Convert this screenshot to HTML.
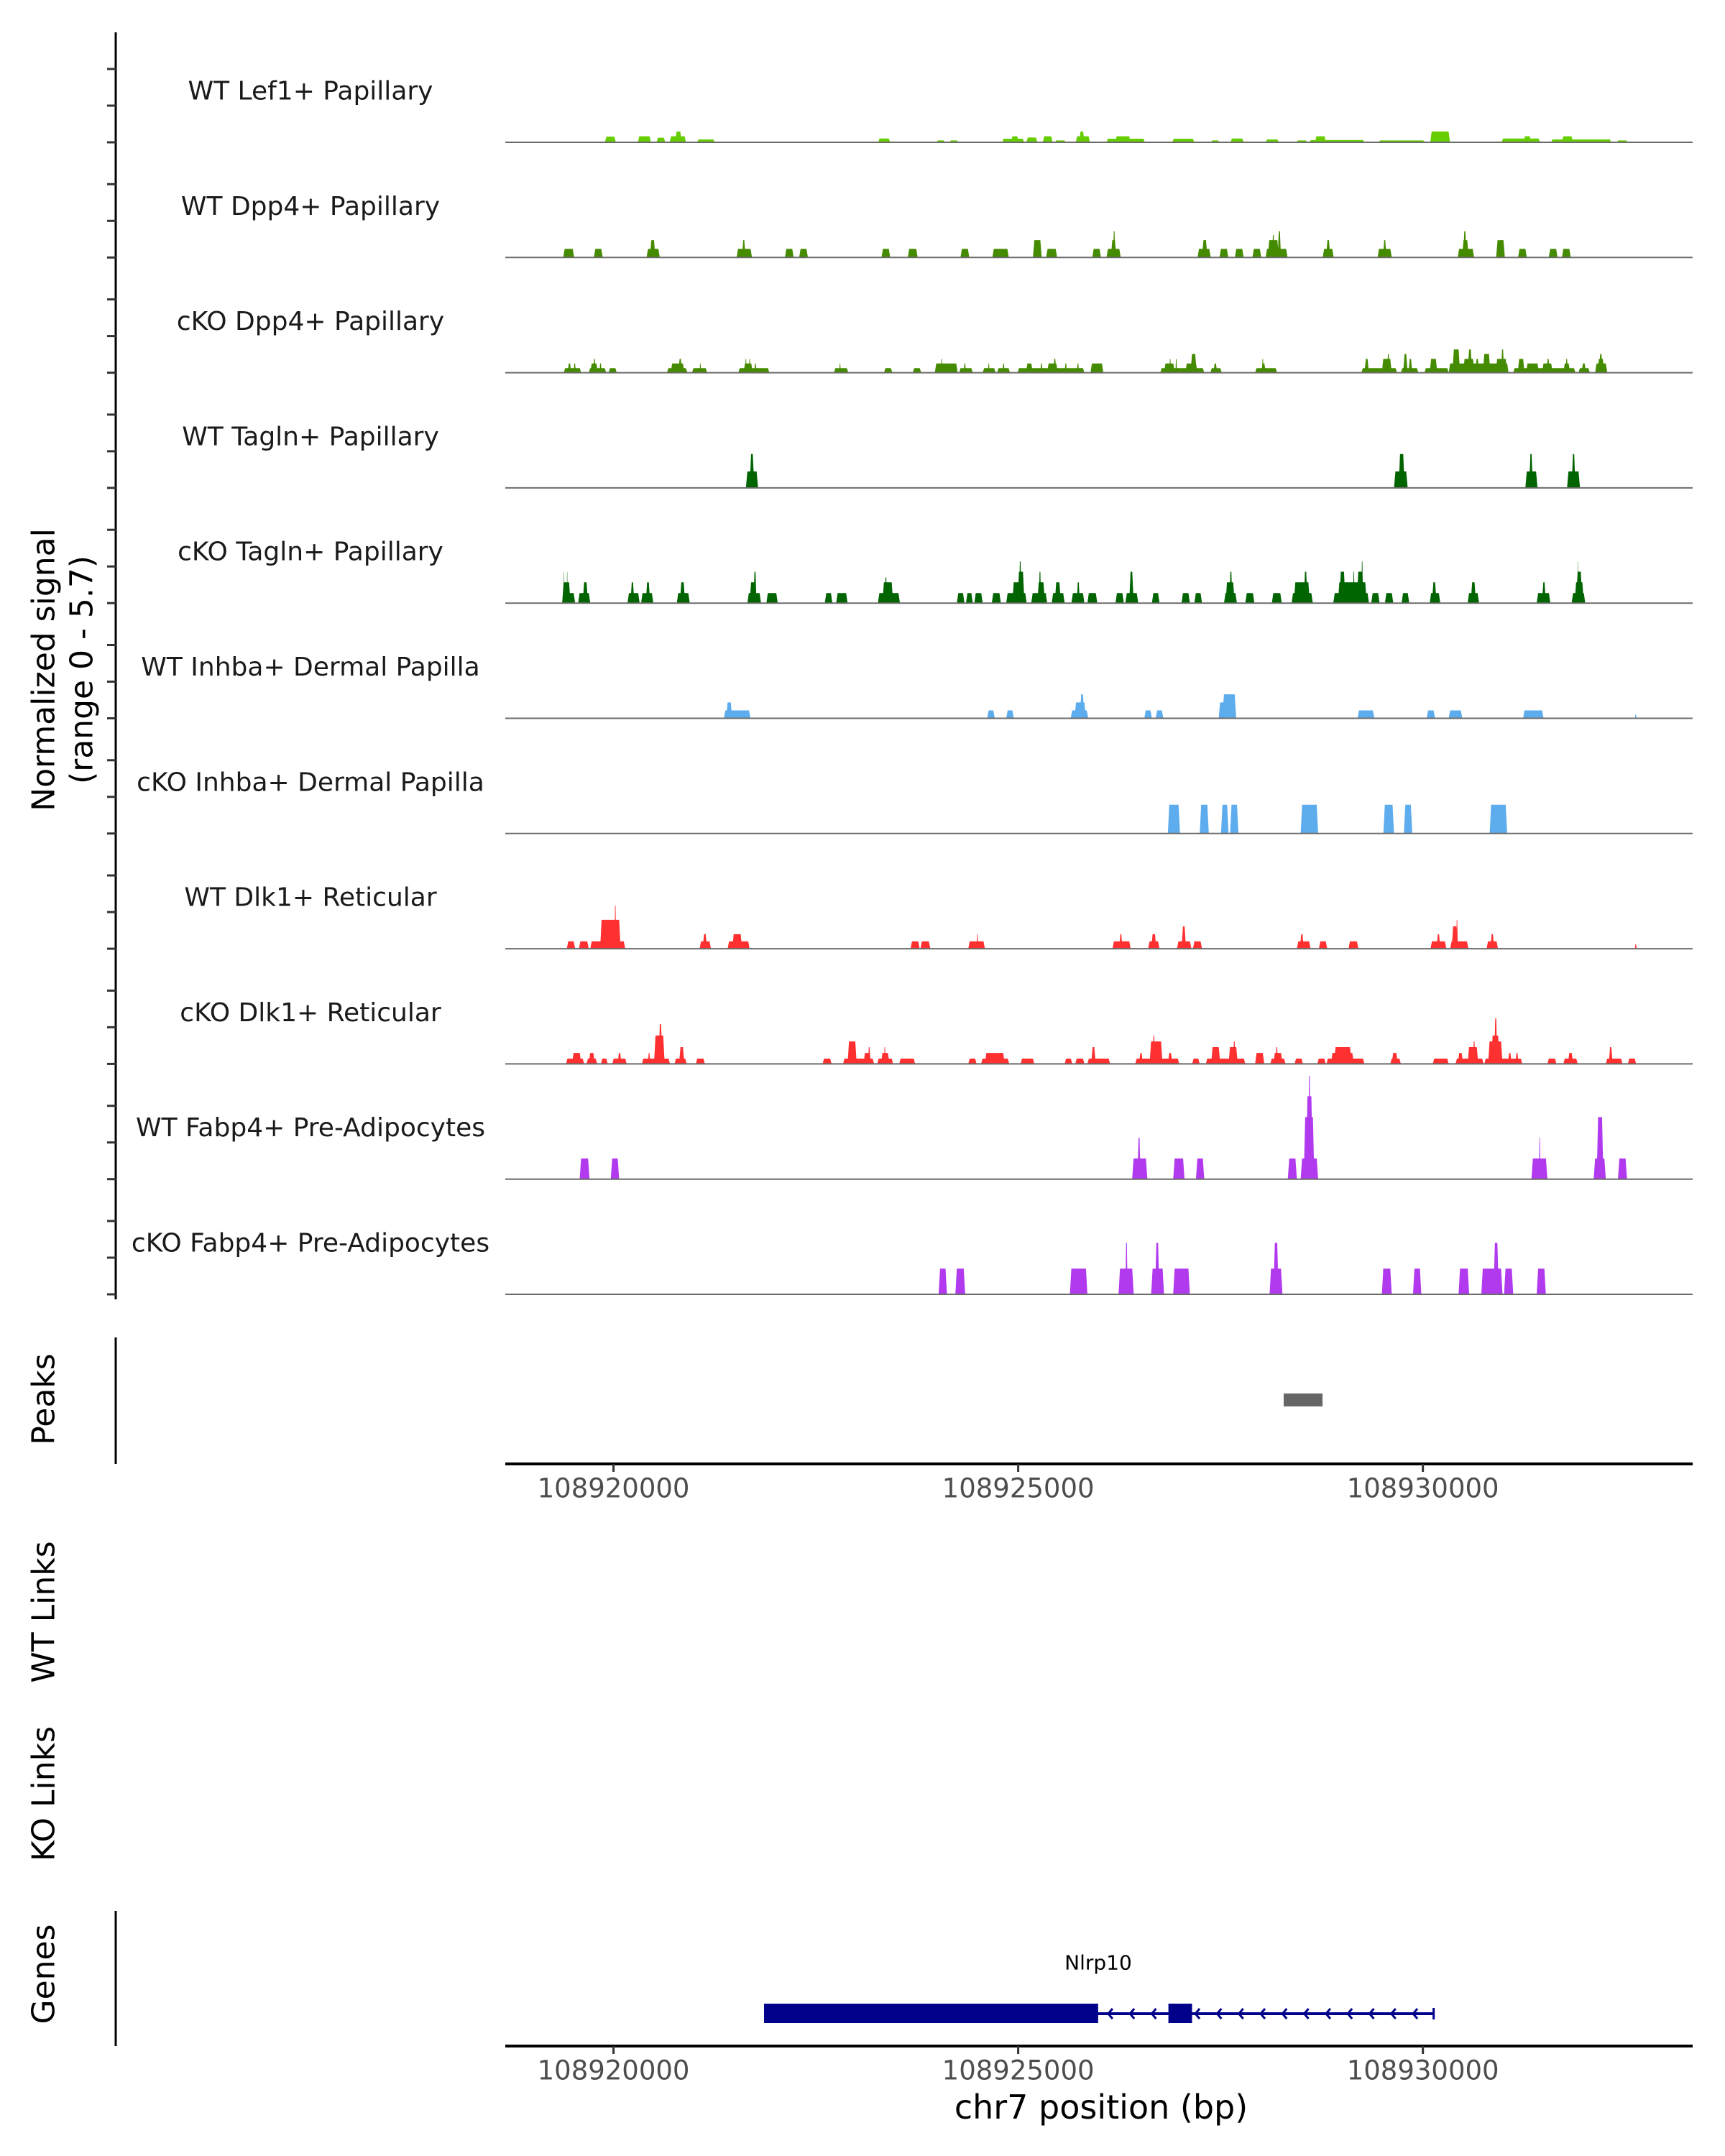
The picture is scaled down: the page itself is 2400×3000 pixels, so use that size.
<!DOCTYPE html>
<html><head><meta charset="utf-8">
<style>
html,body{margin:0;padding:0;background:#fff;}
svg{display:block;font-family:"DejaVu Sans","Liberation Sans",sans-serif;}
</style></head>
<body>
<svg id="chart" width="2400" height="3000" viewBox="0 0 2400 3000" xmlns="http://www.w3.org/2000/svg">
<rect x="0" y="0" width="2400" height="3000" fill="#fff"/>
</svg>
<script>
// ---- data ----
const trackNames = ["WT Lef1+ Papillary","WT Dpp4+ Papillary","cKO Dpp4+ Papillary","WT Tagln+ Papillary","cKO Tagln+ Papillary","WT Inhba+ Dermal Papilla","cKO Inhba+ Dermal Papilla","WT Dlk1+ Reticular","cKO Dlk1+ Reticular","WT Fabp4+ Pre-Adipocytes","cKO Fabp4+ Pre-Adipocytes"];
const trackColors = ["#66CD00","#458B00","#458B00","#006400","#006400","#5CACEE","#5CACEE","#FF3030","#FF3030","#B23AEE","#B23AEE"];
const xTicks = [108920000,108925000,108930000];
const xTickLabels = ["108920000","108925000","108930000"];
const regionStart = 108918663;
const regionEnd = 108933333;
const signalMax = 5.7;
const peakRegions = [[108928280,108928760]];
const geneName = "Nlrp10";
const geneExons = [[108921860,108925988],[108926856,108927148]];
const geneSpan = [108921860,108930133];

const wtLef1 = [[108919894,108920029,0.3],[108920301,108920463,0.32],[108920531,108920640,0.24],[108920694,108920897,0.32],[108920762,108920843,0.57],[108921033,108921250,0.15],[108923270,108923419,0.2],[108923989,108924097,0.1],[108924152,108924260,0.1],[108924803,108925074,0.19],[108924911,108925006,0.32],[108925101,108925237,0.25],[108925304,108925426,0.32],[108925453,108925589,0.1],[108925711,108925887,0.32],[108925752,108925820,0.57],[108926091,108926565,0.19],[108926199,108926389,0.32],[108926904,108927176,0.19],[108927379,108927487,0.1],[108927623,108927786,0.2],[108928057,108928220,0.15],[108928437,108928572,0.1],[108928599,108929277,0.12],[108928667,108928803,0.32],[108929454,108930023,0.1],[108930091,108930335,0.57],[108930972,108931447,0.2],[108931244,108931338,0.32],[108931583,108932328,0.15],[108931718,108931854,0.32],[108932396,108932532,0.1]];
const wtDpp4 = [[108919379,108919514,0.46],[108919758,108919867,0.46],[108920409,108920572,0.46],[108920450,108920518,0.92],[108921521,108921711,0.46],[108921589,108921630,0.92],[108922118,108922226,0.46],[108922294,108922402,0.46],[108923311,108923419,0.46],[108923636,108923758,0.46],[108924287,108924396,0.46],[108924681,108924884,0.46],[108925182,108925291,0.92],[108925345,108925481,0.46],[108925915,108926023,0.46],[108926091,108926267,0.46],[108926145,108926213,0.92],[108926172,108926199,1.39],[108927216,108927379,0.46],[108927271,108927338,0.92],[108927487,108927596,0.46],[108927677,108927786,0.46],[108927894,108928003,0.46],[108928057,108928328,0.46],[108928084,108928220,0.92],[108928138,108928165,1.2],[108928206,108928247,1.39],[108928762,108928898,0.46],[108928803,108928857,0.92],[108929440,108929616,0.46],[108929508,108929549,0.92],[108930430,108930633,0.46],[108930484,108930566,0.92],[108930498,108930538,1.39],[108930905,108931013,0.92],[108931176,108931284,0.46],[108931555,108931664,0.46],[108931718,108931827,0.46]];
const ckoDpp4 = [[108919385,108919601,0.24],[108919432,108919479,0.49],[108919507,108919535,0.49],[108919694,108919910,0.24],[108919713,108919807,0.49],[108919751,108919779,0.73],[108919826,108919854,0.49],[108919938,108920041,0.24],[108920660,108920913,0.24],[108920707,108920876,0.49],[108920801,108920848,0.73],[108920970,108921157,0.24],[108921064,108921082,0.49],[108921542,108921926,0.24],[108921607,108921720,0.49],[108921626,108921645,0.73],[108921673,108921692,0.73],[108921739,108921767,0.49],[108922723,108922901,0.24],[108922789,108922808,0.49],[108923342,108923445,0.24],[108923698,108923802,0.24],[108923970,108924252,0.49],[108924045,108924064,0.73],[108924270,108924439,0.24],[108924327,108924355,0.49],[108924561,108924721,0.24],[108924627,108924646,0.49],[108924739,108924899,0.24],[108924805,108924833,0.49],[108924992,108925818,0.24],[108925096,108925180,0.49],[108925274,108925302,0.49],[108925358,108925489,0.49],[108925433,108925471,0.73],[108925574,108925602,0.49],[108925724,108925752,0.49],[108925893,108926052,0.49],[108926755,108927299,0.24],[108926802,108926934,0.49],[108926868,108926887,0.73],[108926943,108926962,0.73],[108927065,108927215,0.49],[108927130,108927205,0.99],[108927374,108927515,0.24],[108927412,108927459,0.49],[108927927,108928199,0.24],[108928002,108928059,0.49],[108928012,108928031,0.73],[108929240,108929681,0.24],[108929278,108929334,0.73],[108929493,108929615,0.73],[108929559,108929587,0.99],[108929728,108929944,0.24],[108929756,108929812,0.99],[108929822,108929869,0.73],[108930019,108930319,0.24],[108930084,108930178,0.73],[108930319,108931059,0.49],[108930365,108930459,1.23],[108930497,108930637,0.73],[108930553,108930609,1.23],[108930647,108930694,0.73],[108930741,108930834,0.99],[108930900,108931041,0.73],[108930966,108931003,1.23],[108931116,108931885,0.24],[108931172,108931256,0.73],[108931275,108931434,0.49],[108931472,108931603,0.49],[108931528,108931566,0.73],[108931735,108931819,0.49],[108931763,108931791,0.73],[108931922,108932063,0.24],[108931960,108932016,0.49],[108932128,108932278,0.49],[108932157,108932241,0.73],[108932175,108932222,0.99]];
const wtTagln = [[108921636,108921786,0.87],[108921682,108921739,1.79],[108929643,108929812,0.87],[108929700,108929775,1.79],[108931266,108931416,0.87],[108931313,108931359,1.79],[108931781,108931941,0.87],[108931838,108931885,1.79]];
const ckoTagln = [[108919366,108919526,0.53],[108919366,108919469,1.1],[108919385,108919394,1.66],[108919423,108919432,1.66],[108919563,108919713,0.53],[108919619,108919685,1.1],[108920173,108920323,0.53],[108920210,108920257,1.1],[108920341,108920492,0.53],[108920398,108920454,1.1],[108920782,108920942,0.53],[108920820,108920885,1.1],[108921654,108921823,0.53],[108921682,108921767,1.1],[108921729,108921767,1.66],[108921889,108922029,0.53],[108922611,108922704,0.53],[108922751,108922892,0.53],[108923267,108923539,0.53],[108923323,108923455,1.1],[108923352,108923380,1.36],[108924242,108924336,0.53],[108924355,108924439,0.53],[108924458,108924561,0.53],[108924674,108924786,0.53],[108924852,108925105,0.53],[108924927,108925077,1.1],[108924992,108925077,1.66],[108925011,108925039,2.2],[108925161,108925358,0.53],[108925236,108925330,1.1],[108925255,108925283,1.66],[108925414,108925574,0.53],[108925452,108925527,1.1],[108925658,108925818,0.53],[108925724,108925761,1.1],[108925855,108925977,0.53],[108926202,108926305,0.53],[108926324,108926483,0.53],[108926371,108926427,1.66],[108926652,108926746,0.53],[108927018,108927121,0.53],[108927177,108927271,0.53],[108927543,108927702,0.53],[108927562,108927674,1.1],[108927609,108927646,1.66],[108927806,108927918,0.53],[108928134,108928256,0.53],[108928378,108928640,0.53],[108928406,108928603,1.1],[108928528,108928574,1.66],[108928893,108929334,0.53],[108928950,108929306,1.1],[108928968,108929043,1.66],[108929137,108929156,1.66],[108929184,108929268,1.66],[108929240,108929259,2.2],[108929362,108929465,0.53],[108929531,108929634,0.53],[108929737,108929831,0.53],[108930084,108930215,0.53],[108930112,108930169,1.1],[108930553,108930694,0.53],[108930591,108930656,1.1],[108931406,108931575,0.53],[108931472,108931519,1.1],[108931838,108932006,0.53],[108931875,108931988,1.1],[108931894,108931969,1.66],[108931913,108931922,2.2]];
const wtInhba = [[108921364,108921692,0.42],[108921392,108921467,0.84],[108924617,108924711,0.42],[108924852,108924946,0.42],[108925649,108925865,0.42],[108925696,108925836,0.84],[108925761,108925818,1.27],[108926558,108926652,0.42],[108926699,108926793,0.42],[108927477,108927693,0.84],[108927524,108927693,1.27],[108929193,108929400,0.42],[108930047,108930150,0.42],[108930319,108930487,0.42],[108931238,108931491,0.42],[108932620,108932640,0.2]];
const ckoInhba = [[108926849,108926999,1.52],[108927243,108927355,1.52],[108927506,108927599,1.52],[108927618,108927721,1.52],[108928490,108928706,1.52],[108929512,108929643,1.52],[108929765,108929869,1.52],[108930825,108931041,1.52]];
const wtDlk1 = [[108919423,108919526,0.39],[108919573,108919694,0.39],[108919713,108920145,0.39],[108919835,108920088,1.53],[108920013,108920032,2.29],[108919948,108919976,1.18],[108921064,108921204,0.39],[108921101,108921157,0.77],[108921410,108921682,0.39],[108921467,108921589,0.77],[108923670,108923783,0.39],[108923792,108923914,0.39],[108924383,108924589,0.39],[108924486,108924505,0.77],[108926165,108926390,0.39],[108926249,108926287,0.77],[108926605,108926746,0.39],[108926643,108926708,0.77],[108926962,108927140,0.39],[108927018,108927074,1.18],[108927159,108927271,0.39],[108928443,108928612,0.39],[108928481,108928528,0.77],[108928715,108928818,0.39],[108929081,108929203,0.39],[108930094,108930290,0.39],[108930169,108930215,0.77],[108930337,108930562,0.39],[108930356,108930431,1.18],[108930412,108930431,1.53],[108930787,108930928,0.39],[108930834,108930881,0.77],[108932620,108932640,0.25]];
const ckoDlk1 = [[108919413,108919638,0.28],[108919488,108919601,0.58],[108919666,108919798,0.28],[108919694,108919769,0.58],[108919845,108919929,0.28],[108919985,108920163,0.28],[108920051,108920098,0.58],[108920351,108920698,0.28],[108920426,108920454,0.58],[108920501,108920632,1.5],[108920557,108920604,2.1],[108920754,108920904,0.28],[108920810,108920876,0.89],[108921017,108921129,0.28],[108922583,108922695,0.28],[108922836,108923220,0.28],[108922892,108923005,1.19],[108923089,108923183,0.58],[108923145,108923173,0.89],[108923258,108923455,0.28],[108923305,108923408,0.58],[108923342,108923361,0.89],[108923530,108923727,0.28],[108924383,108924486,0.28],[108924542,108924889,0.28],[108924589,108924833,0.58],[108925030,108925199,0.28],[108925574,108925668,0.28],[108925705,108925818,0.28],[108925855,108926136,0.28],[108925902,108925958,0.89],[108926446,108926990,0.28],[108926493,108926540,0.58],[108926624,108926783,1.19],[108926662,108926690,1.5],[108926849,108926905,0.58],[108927149,108927243,0.28],[108927318,108927806,0.28],[108927384,108927496,0.89],[108927599,108927712,0.89],[108927656,108927684,1.19],[108927927,108928040,0.58],[108928115,108928303,0.28],[108928153,108928265,0.58],[108928181,108928209,0.89],[108928415,108928518,0.28],[108928696,108928800,0.28],[108928809,108929278,0.28],[108928865,108929146,0.58],[108928903,108929118,0.89],[108929597,108929728,0.28],[108929615,108929690,0.58],[108930122,108930319,0.28],[108930403,108930750,0.28],[108930431,108930497,0.58],[108930553,108930684,0.89],[108930619,108930647,1.19],[108930759,108931228,0.28],[108930806,108930984,1.19],[108930844,108930947,1.5],[108930881,108930919,2.41],[108931050,108931097,0.58],[108931144,108931181,0.58],[108931538,108931650,0.28],[108931735,108931913,0.28],[108931791,108931857,0.58],[108932260,108932466,0.28],[108932297,108932344,0.89],[108932532,108932635,0.28]];
const wtFabp4 = [[108919582,108919704,1.09],[108919966,108920070,1.09],[108926408,108926596,1.09],[108926474,108926512,2.19],[108926915,108927055,1.09],[108927196,108927299,1.09],[108928331,108928443,1.09],[108928490,108928706,1.09],[108928528,108928659,3.28],[108928556,108928640,4.38],[108928584,108928612,5.46],[108931341,108931538,1.09],[108931434,108931453,2.19],[108932110,108932260,1.09],[108932147,108932231,3.28],[108932410,108932522,1.09]];
const ckoFabp4 = [[108924017,108924120,1.36],[108924224,108924345,1.36],[108925639,108925855,1.36],[108926240,108926427,1.36],[108926324,108926352,2.72],[108926643,108926802,1.36],[108926690,108926746,2.72],[108926915,108927121,1.36],[108928106,108928265,1.36],[108928153,108928218,2.72],[108929493,108929615,1.36],[108929878,108929981,1.36],[108930441,108930572,1.36],[108930722,108930984,1.36],[108930872,108930938,2.72],[108931003,108931116,1.36],[108931406,108931519,1.36]];
const trackData = [wtLef1,wtDpp4,ckoDpp4,wtTagln,ckoTagln,wtInhba,ckoInhba,wtDlk1,ckoDlk1,wtFabp4,ckoFabp4];

// ---- layout ----
const NS = "http://www.w3.org/2000/svg";
const svg = document.getElementById("chart");
const plotLeft = 703, plotRight = 2355;
const firstBase = 198, trackStep = 160.3, trackHeight = 150;
function xScale(bp){ return plotLeft + (bp - regionStart) / (regionEnd - regionStart) * (plotRight - plotLeft); }
function yScale(v, base){ return base - v / signalMax * trackHeight; }
function mk(tag, attrs, parent){
  const e = document.createElementNS(NS, tag);
  for (const k in attrs) e.setAttribute(k, attrs[k]);
  (parent || svg).appendChild(e);
  return e;
}
function txt(str, x, y, size, fill, rot, parent){
  const t = mk("text", {x:x, y:y, "font-size":size, fill:fill, "text-anchor":"middle", "dominant-baseline":"central"}, parent);
  if (rot) t.setAttribute("transform", "rotate(-90 " + x + " " + y + ")");
  t.textContent = str;
  return t;
}

let el = mk("line", {x1:161, y1:45, x2:161, y2:1808, stroke:"#000", "stroke-width":3});



el = txt("Normalized signal", 61, 932, 44, "#000", true);


el = txt("(range 0 - 5.7)", 114, 932, 44, "#000", true);



trackNames.forEach(function(name, i){
  const base = firstBase + i * trackStep;
  const g = mk("g", {});
  
  
  for (let k = 0; k < 3; k++) {
    const ty = base - k * 51;
    const tk = mk("line", {x1:149, y1:ty, x2:161, y2:ty, stroke:"#333", "stroke-width":3}, g);
    
    
  }
  const lbl = txt(name, 432, base - 71, 36, "#1a1a1a", false, g);
  
  
  trackData[i].forEach(function(p){
    const x0 = xScale(p[0]), x1 = xScale(p[1]);
    const yt = yScale(p[2], base);
    const t = Math.min(2, (x1 - x0) / 3);
    const poly = mk("polygon", {points: x0+","+base+" "+(x0+t)+","+yt+" "+(x1-t)+","+yt+" "+x1+","+base, fill:trackColors[i]}, g);
    
    
  });
  const bl = mk("line", {x1:plotLeft, y1:base, x2:plotRight, y2:base, stroke:"#6b6b6b", "stroke-width":2}, g);
  
  
});

el = mk("line", {x1:161, y1:1861, x2:161, y2:2037, stroke:"#000", "stroke-width":3});


el = txt("Peaks", 61, 1947, 44, "#000", true);


peakRegions.forEach(function(p){
  const r = mk("rect", {x:xScale(p[0]), y:1939, width:xScale(p[1]) - xScale(p[0]), height:18, fill:"#666"});
  
  
});

function xAxis(y, name){
  const g = mk("g", {});
  
  
  mk("line", {x1:plotLeft, y1:y, x2:plotRight, y2:y, stroke:"#000", "stroke-width":4}, g);
  xTicks.forEach(function(t, i){
    const x = xScale(t);
    const tk = mk("line", {x1:x, y1:y, x2:x, y2:y + 11, stroke:"#333", "stroke-width":3}, g);
    
    
    const lb = txt(xTickLabels[i], x, y + 34, 37, "#4d4d4d", false, g);
    
    
  });
}
xAxis(2037, 'peaks-x-axis');

el = txt("WT Links", 61, 2243, 44, "#000", true);


el = txt("KO Links", 61, 2496, 44, "#000", true);



el = mk("line", {x1:161, y1:2659, x2:161, y2:2847, stroke:"#000", "stroke-width":3});


el = txt("Genes", 61, 2747, 44, "#000", true);



const gg = mk("g", {});


const gy = 2802;
const gx0 = xScale(geneSpan[0]), gx1 = xScale(geneSpan[1]);
mk("line", {x1:gx0, y1:gy, x2:gx1, y2:gy, stroke:"#00008B", "stroke-width":4}, gg);
const firstIntron = xScale(geneExons[0][1]);
for (let cx = firstIntron + 17; cx < gx1 - 10; cx += 30.3) {
  const ex2a = xScale(geneExons[1][0]), ex2b = xScale(geneExons[1][1]);
  if (cx > ex2a - 4 && cx < ex2b + 4) continue;
  const ch = mk("polyline", {points:(cx+3)+","+(gy-7)+" "+(cx-3)+","+gy+" "+(cx+3)+","+(gy+7), fill:"none", stroke:"#00008B", "stroke-width":3}, gg);
  
  
}
mk("line", {x1:gx1, y1:gy-8, x2:gx1, y2:gy+8, stroke:"#00008B", "stroke-width":3}, gg);
geneExons.forEach(function(e){
  const r = mk("rect", {x:xScale(e[0]), y:2788, width:xScale(e[1]) - xScale(e[0]), height:27, fill:"#00008B"}, gg);
  
  
});
el = txt(geneName, 1528, 2731, 28, "#000", false, gg);



xAxis(2847, 'genes-x-axis');
el = txt("chr7 position (bp)", 1532, 2932, 46, "#000", false);


</script>
</body></html>
